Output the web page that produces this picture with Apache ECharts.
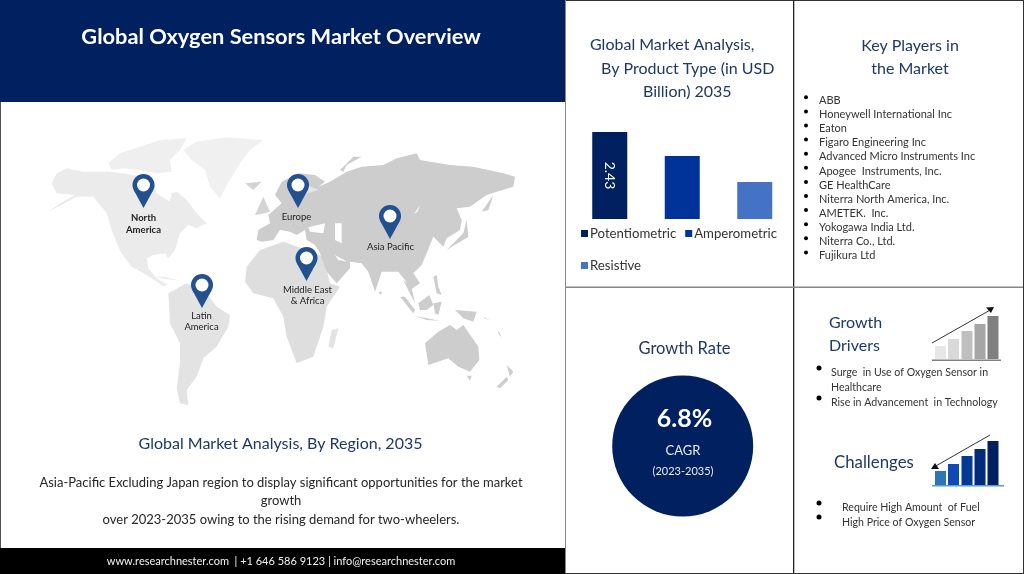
<!DOCTYPE html>
<html><head><meta charset="utf-8">
<style>html,body{margin:0;padding:0;background:#fff}#c{width:1024px;height:574px}</style>
<script src="https://cdn.jsdelivr.net/npm/echarts@6/dist/echarts.min.js"></script></head>
<body><div id="c"></div><script>
const categories=['Potentiometric','Amperometric','Resistive'];
const values=[2.43,1.76,1.03];
const barColors=['#002060','#003399','#4472c4'];
const keyPlayers=['ABB','Honeywell International Inc','Eaton','Figaro Engineering Inc','Advanced Micro Instruments Inc','Apogee  Instruments, Inc.','GE HealthCare','Niterra North America, Inc.','AMETEK.  Inc.','Yokogawa India Ltd.','Niterra Co., Ltd.','Fujikura Ltd'];
const FONT='Lato',NAVY='#1f3864',TXT='#333333';
const g=[];
const rect=(x,y,w,h,fill,z)=>g.push({type:'rect',shape:{x,y,width:w,height:h},style:{fill},z:z||1});
const text=(x,y,t,o={})=>g.push({type:'text',x,y,z:10,style:{text:t,font:(o.b?'bold ':'')+(o.s||11)+'px '+(o.f||FONT),fill:o.c||TXT,textAlign:o.a||'left',textVerticalAlign:'middle'}});
const dot=(x,y,r,fill)=>g.push({type:'circle',shape:{cx:x,cy:y,r:r},style:{fill},z:5});
let mapZ=2;
const poly=(ox,oy,pts,fill)=>g.push({type:'polygon',shape:{points:pts.map(p=>[ox+p[0]/3,oy+p[1]/3])},style:{fill},z:mapZ});
// frame
rect(0,0,565,102,'#002060');rect(0,548,565,26,'#000000');
rect(0,102,1,446,'#555');
rect(565,0,459,1,'#333');rect(565,0,1,574,'#888');rect(793,0,1.3,574,'#222');rect(565,286.5,459,1.5,'#888');rect(1023,0,1,574,'#333');rect(565,573,459,1,'#333');
text(281,37,'Global Oxygen Sensors Market Overview',{s:21.8,b:1,c:'#fff',a:'center'});
// map: North America view
poly(40,130,[[25,245],[60,220],[105,195],[50,190],[35,160],[50,130],[80,115],[130,125],[215,125],[280,135],[340,150],[350,190],[390,215],[395,190],[410,185],[440,210],[470,250],[500,280],[470,295],[445,285],[420,310],[405,360],[385,385],[375,370],[340,375],[320,385],[325,415],[350,445],[384,465],[370,468],[320,435],[275,410],[245,370],[235,350],[215,300],[200,250],[160,200],[110,200]],'#ebebeb');
poly(40,130,[[205,100],[240,70],[300,50],[360,30],[440,25],[420,60],[390,90],[395,125],[350,130],[300,120],[250,115],[215,120]],'#efefef');
poly(40,130,[[430,60],[470,35],[560,22],[670,30],[630,60],[600,100],[560,165],[540,205],[510,170],[495,120],[455,90]],'#f0f0f0');
poly(40,130,[[340,440],[375,440],[420,452],[380,448]],'#eeeeee');
// South America, Africa
poly(30,150,[[415,430],[470,400],[530,430],[560,470],[600,495],[595,530],[560,590],[520,625],[500,680],[470,720],[475,765],[450,760],[440,715],[450,640],[450,580],[420,520]],'#e3e3e3');
poly(30,150,[[645,395],[650,350],[690,300],[760,275],[830,300],[880,320],[900,400],[930,410],[890,470],[880,530],[850,620],[800,640],[770,560],[760,500],[730,445],[670,430]],'#dedede');
poly(30,150,[[905,540],[925,535],[910,595],[895,590]],'#e3e3e3');
mapZ=3;
// Eurasia view
const GR='#cdcdcd';
poly(240,140,[[15,130],[65,125],[40,150]],'#d4d4d4');
poly(240,140,[[50,300],[55,270],[90,250],[85,225],[125,190],[105,165],[125,125],[175,100],[225,105],[255,125],[235,140],[270,125],[320,95],[365,80],[430,75],[470,55],[530,40],[540,60],[630,75],[700,80],[790,100],[825,110],[820,140],[770,155],[740,165],[690,200],[650,205],[665,240],[660,270],[620,295],[610,320],[580,290],[560,340],[545,375],[520,400],[540,430],[510,450],[495,420],[475,395],[440,395],[425,395],[405,455],[385,395],[365,370],[330,365],[330,385],[290,430],[260,395],[240,340],[225,315],[200,300],[195,270],[170,285],[150,275],[120,270],[100,300],[65,305]],GR);
poly(240,140,[[45,225],[70,170],[90,215],[65,222]],'#d4d4d4');
poly(240,140,[[300,90],[340,50],[365,50],[320,75],[310,95]],GR);
poly(240,140,[[725,215],[760,165],[745,210]],GR);
poly(240,140,[[620,330],[670,280],[680,240],[685,290]],GR);
mapZ=4;
poly(240,140,[[285,250],[305,250],[305,310],[285,300]],'#ffffff');
poly(240,140,[[205,262],[255,250],[250,280],[210,275]],'#ffffff');
poly(240,140,[[285,345],[322,365],[295,360]],'#ffffff');
poly(240,140,[[522,222],[540,195],[532,215]],'#ffffff');
poly(240,140,[[190,130],[235,150],[185,165]],'#e5e5e5');
mapZ=3;
// South East Asia and Oceania view
poly(370,260,[[100,60],[125,85],[135,130],[122,105]],GR);
poly(370,260,[[25,95],[37,95],[32,105]],GR);
poly(370,260,[[90,110],[105,110],[135,150],[130,160]],GR);
poly(370,260,[[135,168],[210,182],[170,180]],GR);
poly(370,260,[[145,130],[178,105],[190,135],[170,150],[150,150]],GR);
poly(370,260,[[190,130],[215,125],[205,165],[195,160]],GR);
poly(370,260,[[190,50],[200,45],[205,80],[215,105],[200,100]],GR);
poly(370,260,[[255,150],[320,155],[310,185],[280,175]],GR);
poly(370,260,[[165,250],[205,215],[240,195],[260,210],[280,195],[325,260],[328,300],[300,335],[265,320],[235,295],[175,315]],GR);
poly(370,260,[[290,347],[305,347],[300,362]],GR);
poly(370,260,[[380,380],[410,350],[415,360],[390,385]],GR);
poly(370,260,[[410,315],[430,335],[420,350]],GR);
poly(370,260,[[340,172],[360,180],[345,176]],GR);
poly(370,260,[[385,212],[395,232],[385,222]],GR);
// pins
const pin=(x,y)=>{g.push({type:'polygon',z:6,shape:{points:[[x-9.66,y+5.26],[x+9.66,y+5.26],[x,y+23]]},style:{fill:'#23508f'}});
 g.push({type:'circle',z:6,shape:{cx:x,cy:y,r:11},style:{fill:'#23508f'}});
 g.push({type:'circle',z:7,shape:{cx:x,cy:y,r:6.5},style:{fill:'#ffffff'}});};
[[143.5,185],[298,185],[390,216],[306.5,258],[202,285]].forEach(p=>pin(p[0],p[1]));
const ms={s:9.5,a:'center',c:'#222'};
text(143.5,218,'North',{...ms,b:1});text(143.5,230,'America',{...ms,b:1});
text(296.5,216.5,'Europe',ms);text(390.5,246.5,'Asia Pacific',ms);
text(307.5,290,'Middle East',ms);text(307.5,301,'& Africa',ms);
text(201.5,315.5,'Latin',ms);text(201.5,327,'America',ms);
// left text
text(280.5,444,'Global Market Analysis, By Region, 2035',{s:16,c:NAVY,a:'center'});
text(281,483,'Asia-Pacific Excluding Japan region to display significant opportunities for the market',{s:13,a:'center',c:'#262626'});
text(281,501,'growth',{s:13,a:'center',c:'#262626'});
text(281,520,'over 2023-2035 owing to the rising demand for two-wheelers.',{s:13,a:'center',c:'#262626'});
text(281,561,'www.researchnester.com  | +1 646 586 9123 | info@researchnester.com',{s:11,a:'center',c:'#f2f2f2'});
// bar title
text(590,45,'Global Market Analysis,',{s:16,c:NAVY});
text(601,69,'By Product Type (in USD',{s:16,c:NAVY});
text(643,92,'Billion) 2035',{s:16,c:NAVY});
// key players
text(910,46,'Key Players in',{s:16,c:NAVY,a:'center'});text(910,69,'the Market',{s:16,c:NAVY,a:'center'});
keyPlayers.forEach((n,i)=>{text(819,100.5+i*14.1,n,{s:11});dot(806,97.3+i*14.1,2,'#000');});
// growth
text(684.5,349,'Growth Rate',{s:16.5,c:NAVY,a:'center'});
dot(682.7,446,70.5,'#002060');
text(684.5,419,'6.8%',{s:25,b:1,c:'#fff',a:'center'});
text(683,451,'CAGR',{s:13,c:'#e8ecf4',a:'center'});
text(683,471,'(2023-2035)',{s:11,c:'#e8ecf4',a:'center'});
// drivers
text(829,323,'Growth',{s:16,c:NAVY});text(829,346,'Drivers',{s:16,c:NAVY});
text(831,372.5,'Surge  in Use of Oxygen Sensor in',{s:10.6});text(831,387.5,'Healthcare',{s:10.6});text(831,403,'Rise in Advancement  in Technology',{s:10.6});
dot(819,368,2.5,'#000');dot(819,398,2.5,'#000');
text(834,462.5,'Challenges',{s:16.8,c:NAVY});
text(842,508,'Require High Amount  of Fuel',{s:10.6});text(842,523,'High Price of Oxygen Sensor',{s:10.6});
dot(819,503,2.5,'#000');dot(819,517,2.5,'#000');
// icons
const xs=[935,948,961.5,974.5,987.5],wb=11;
[[13,'#e7e7e7'],[20,'#d9d9d9'],[28,'#bfbfbf'],[35,'#a6a6a6'],[43,'#7f7f7f']].forEach((b,i)=>rect(xs[i],359-b[0],wb,b[0],b[1]));
rect(932,359.5,69,1.5,'#7f7f7f');
g.push({type:'line',z:4,shape:{x1:932,y1:343,x2:992,y2:309},style:{stroke:'#333',lineWidth:1}});
g.push({type:'polygon',z:4,shape:{points:[[986,307.5],[994,307],[991,313]]},style:{fill:'#111'}});
[[14,'#2e75b6'],[21,'#0f49b5'],[29,'#003a94'],[36,'#002a7a'],[44,'#002060']].forEach((b,i)=>rect(xs[i],485-b[0],wb,b[0],b[1]));
rect(932,485,72,1.5,'#5b9bd5');
g.push({type:'line',z:4,shape:{x1:990,y1:435,x2:934,y2:467},style:{stroke:'#333',lineWidth:1}});
g.push({type:'polygon',z:4,shape:{points:[[935,463],[931,469],[939,469]]},style:{fill:'#111'}});

const series=categories.map((c,i)=>({name:c,type:'bar',stack:'all',barWidth:35,z:3,
  data:categories.map((_,j)=>j===i?values[i]:null),itemStyle:{color:barColors[i]},
  label:{show:i===0,position:'inside',rotate:-90,color:'#fff',fontFamily:FONT,fontSize:14,formatter:'{c}'}}));
const legStyle={fontFamily:FONT,fontSize:13.2,color:'#333',padding:[0,0,0,-3]};
const chart=echarts.init(document.getElementById('c'),null,{renderer:'canvas'});
chart.setOption({animation:false,backgroundColor:'#fff',
 grid:{left:573.5,top:132,width:217.5,height:87},
 xAxis:{type:'category',data:categories,show:false},
 yAxis:{type:'value',min:0,max:2.43,show:false},
 legend:[{left:576,top:222,itemWidth:7,itemHeight:7,itemGap:9,icon:'rect',textStyle:legStyle,data:categories.slice(0,2)},
         {left:576,top:254,itemWidth:7,itemHeight:7,icon:'rect',textStyle:legStyle,data:categories.slice(2)}],
 series,graphic:{elements:g}});
</script></body></html>
